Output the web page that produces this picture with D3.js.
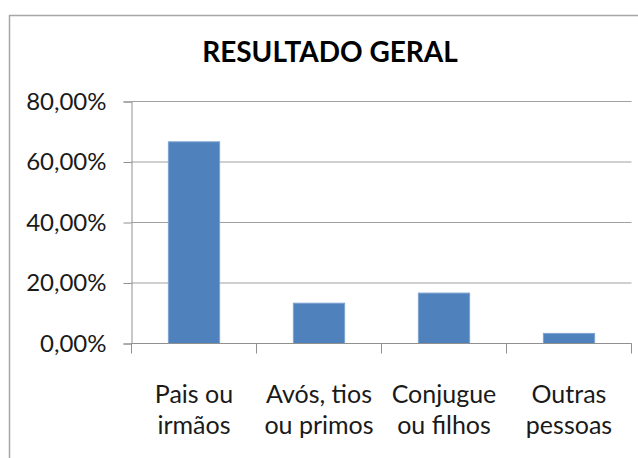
<!DOCTYPE html>
<html>
<head>
<meta charset="utf-8">
<script src="https://cdn.jsdelivr.net/npm/d3@7"></script>
<style>
  html, body { margin: 0; padding: 0; background: #fff; }
  svg { display: block; }
</style>
</head>
<body>
<svg id="chart" width="638" height="458"></svg>
<script>
// Share of responses per category
const categories = [
  ["Pais ou", "irmãos"],
  ["Avós, tios", "ou primos"],
  ["Conjugue", "ou filhos"],
  ["Outras", "pessoas"]
];
const values = [0.6667, 0.1333, 0.1667, 0.0333];
const yTicks = [0, 0.2, 0.4, 0.6, 0.8];
const title = "RESULTADO GERAL";

const svg = d3.select("#chart");
const font = "Lato, 'Open Sans', sans-serif";

// outer chart frame (runs past the right and bottom edges)
svg.append("rect")
  .attr("x", 9.5).attr("y", 15.5)
  .attr("width", 700).attr("height", 600)
  .attr("fill", "none")
  .attr("stroke", "#a6a6a6")
  .attr("stroke-width", 1.5);

const plotLeft = 131.5, plotRight = 631.5, plotTop = 101.5, plotBottom = 343.5;

const x = d3.scaleBand()
  .domain(d3.range(categories.length))
  .range([plotLeft, plotRight])
  .paddingInner(0.59)
  .paddingOuter(0.295);

const y = d3.scaleLinear().domain([0, 0.8]).range([plotBottom, plotTop]);

const fmt = v => d3.format(".2f")(v * 100).replace(".", ",") + "%";

// horizontal gridlines
svg.append("g")
  .selectAll("line")
  .data(yTicks)
  .join("line")
  .attr("x1", plotLeft).attr("x2", plotRight)
  .attr("y1", d => y(d)).attr("y2", d => y(d))
  .attr("stroke", "#a0a0a0")
  .attr("stroke-width", 1);

// y axis
const yAxis = svg.append("g")
  .attr("transform", `translate(${plotLeft},0)`)
  .call(d3.axisLeft(y).tickValues(yTicks).tickFormat(fmt).tickSize(8).tickPadding(17));
yAxis.select(".domain").attr("stroke", "#909090");
yAxis.selectAll(".tick line").attr("stroke", "#909090");
yAxis.selectAll(".tick text")
  .attr("font-family", font)
  .attr("font-size", 24)
  .attr("fill", "#1a1a1a");

// bars
svg.append("g")
  .selectAll("rect")
  .data(values)
  .join("rect")
  .attr("x", (d, i) => x(i))
  .attr("width", x.bandwidth())
  .attr("y", d => y(d))
  .attr("height", d => y(0) - y(d))
  .attr("fill", "#4f81bd")
  .attr("stroke", "#7ea3d2")
  .attr("stroke-width", 1);

// x axis baseline and category separators
const step = x.step();
const bounds = d3.range(categories.length + 1).map(i => plotLeft + i * step);
svg.append("line")
  .attr("x1", plotLeft).attr("x2", plotRight)
  .attr("y1", plotBottom).attr("y2", plotBottom)
  .attr("stroke", "#909090");
svg.append("g")
  .selectAll("line")
  .data(bounds)
  .join("line")
  .attr("x1", d => d).attr("x2", d => d)
  .attr("y1", plotBottom).attr("y2", plotBottom + 10)
  .attr("stroke", "#909090");

// category labels, two lines each
const labels = svg.append("g")
  .selectAll("text")
  .data(categories)
  .join("text")
  .attr("x", (d, i) => x(i) + x.bandwidth() / 2)
  .attr("y", 403)
  .attr("text-anchor", "middle")
  .attr("font-family", font)
  .attr("font-size", 25)
  .attr("fill", "#1a1a1a");
labels.selectAll("tspan")
  .data(d => d)
  .join("tspan")
  .attr("x", function () { return this.parentNode.getAttribute("x"); })
  .attr("dy", (d, i) => i === 0 ? 0 : 31)
  .text(d => d);

// title
svg.append("text")
  .attr("x", 330)
  .attr("y", 62)
  .attr("text-anchor", "middle")
  .attr("font-family", font)
  .attr("font-weight", "bold")
  .attr("font-size", 28)
  .attr("fill", "#000")
  .text(title);
</script>
</body>
</html>
